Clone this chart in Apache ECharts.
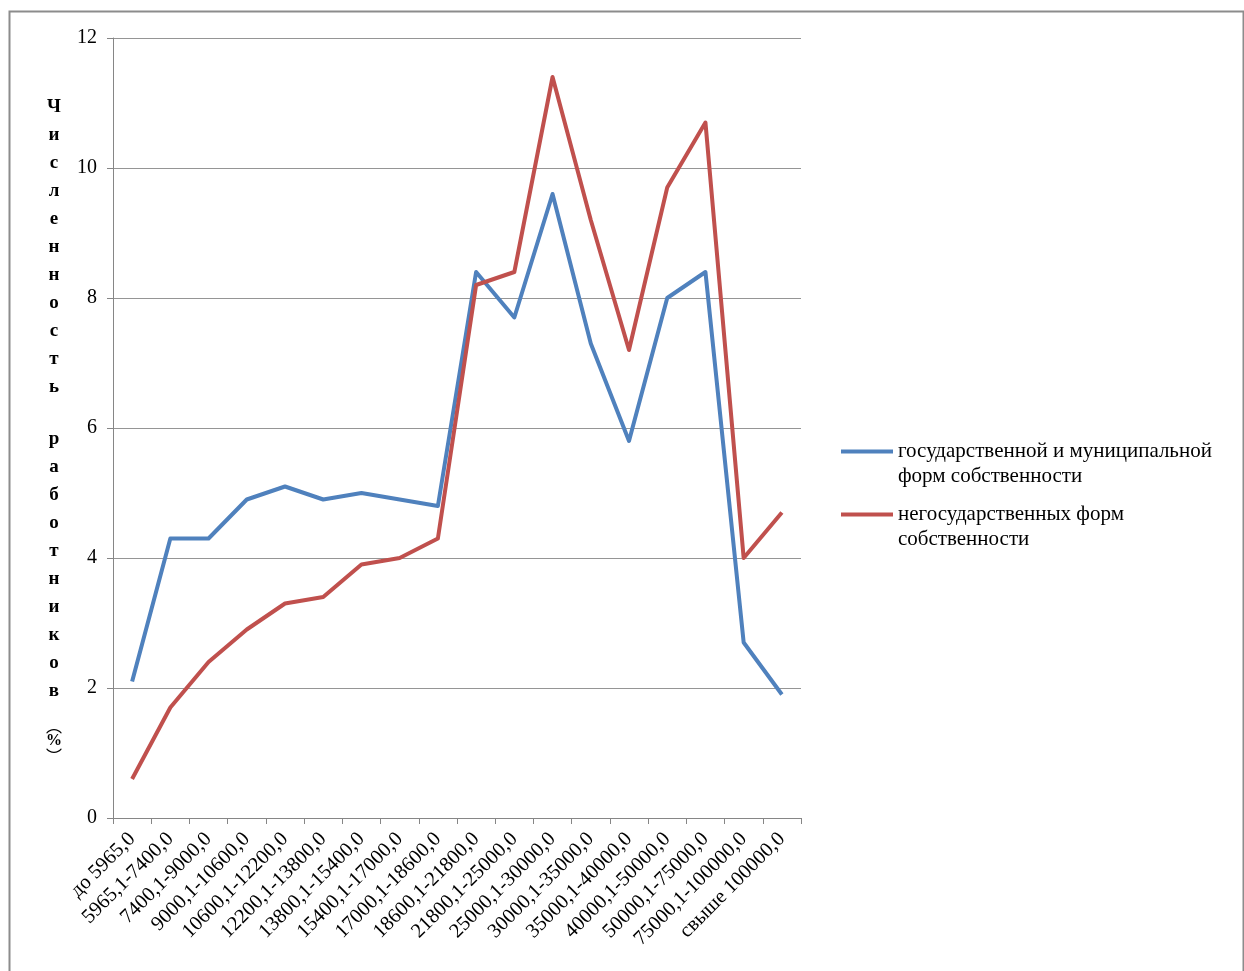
<!DOCTYPE html>
<html>
<head>
<meta charset="utf-8">
<script src="https://cdn.jsdelivr.net/npm/echarts@6/dist/echarts.min.js"></script>
<style>
html,body{margin:0;padding:0;background:#fff;}
#chart{width:1244px;height:971px;}
</style>
</head>
<body>
<div id="chart"></div>
<script>
const categories = ['до 5965,0','5965,1-7400,0','7400,1-9000,0','9000,1-10600,0','10600,1-12200,0','12200,1-13800,0','13800,1-15400,0','15400,1-17000,0','17000,1-18600,0','18600,1-21800,0','21800,1-25000,0','25000,1-30000,0','30000,1-35000,0','35000,1-40000,0','40000,1-50000,0','50000,1-75000,0','75000,1-100000,0','свыше 100000,0'];
const stateValues = [2.1, 4.3, 4.3, 4.9, 5.1, 4.9, 5.0, 4.9, 4.8, 8.4, 7.7, 9.6, 7.3, 5.8, 8.0, 8.4, 2.7, 1.9];
const nonStateValues = [0.6, 1.7, 2.4, 2.9, 3.3, 3.4, 3.9, 4.0, 4.3, 8.2, 8.4, 11.4, 9.2, 7.2, 9.7, 10.7, 4.0, 4.7];
const seriesNames = ['государственной и муниципальной форм собственности', 'негосударственных форм собственности'];
const legendLabels = ['государственной и муниципальной\nформ собственности', 'негосударственных форм\nсобственности'];
const yTitleWords = ['численность', 'работников'];
const yTitleUnit = '%';

const serif = '"Liberation Serif","Times New Roman",serif';
const titleChars = Array.from(yTitleWords[0]);
titleChars[0] = titleChars[0].toUpperCase();
const titleLines = titleChars.map(c => '{c|' + c + '}')
  .concat(['{s| }'])
  .concat(Array.from(yTitleWords[1]).map(c => '{c|' + c + '}'))
  .concat(['{g| }', '{p|︵}', '{q|' + yTitleUnit + '}', '{p|︶}']);

const chart = echarts.init(document.getElementById('chart'));
chart.setOption({
  backgroundColor: '#fff',
  animation: false,
  graphic: [{
    type: 'rect', left: 7, top: 9, shape: {width: 1234, height: 1000},
    style: {fill: 'none', stroke: '#8c8c8c', lineWidth: 2}, silent: true
  }],
  grid: {left: 113, right: 443, top: 38, bottom: 153, containLabel: false},
  legend: {
    orient: 'vertical', left: 841, top: 439, padding: 0, itemGap: 13,
    itemWidth: 52, itemHeight: 29,
    icon: 'path://M0,0H52V4H0Z M0,29L0.1,29',
    itemStyle: {borderWidth: 0},
    formatter: name => legendLabels[seriesNames.indexOf(name)],
    textStyle: {fontFamily: serif, fontSize: 21, lineHeight: 25, color: '#000'}
  },
  xAxis: {
    type: 'category', data: categories, boundaryGap: true,
    axisLine: {lineStyle: {color: '#868686', width: 1}},
    axisTick: {show: true, length: 6, alignWithLabel: false, lineStyle: {color: '#868686'}},
    axisLabel: {rotate: 45, interval: 0, margin: 18, fontFamily: serif, fontSize: 20.5, color: '#000'}
  },
  yAxis: {
    type: 'value', min: 0, max: 12, interval: 2,
    name: titleLines.join('\n'),
    nameLocation: 'middle', nameRotate: 0, nameGap: 59,
    nameTextStyle: {
      align: 'center', verticalAlign: 'middle',
      rich: {
        c: {fontFamily: serif, fontWeight: 'bold', fontSize: 19, lineHeight: 28, color: '#000'},
        s: {fontSize: 10, lineHeight: 24},
        g: {fontSize: 10, lineHeight: 14},
        p: {fontFamily: '"Noto Sans CJK SC",sans-serif', fontSize: 16, lineHeight: 14, color: '#000'},
        q: {fontFamily: serif, fontWeight: 'bold', fontSize: 16, lineHeight: 16, color: '#000'}
      }
    },
    axisLine: {show: true, lineStyle: {color: '#868686', width: 1}},
    axisTick: {show: true, length: 6, lineStyle: {color: '#868686'}},
    axisLabel: {margin: 16, fontFamily: serif, fontSize: 20, color: '#000'},
    splitLine: {show: true, lineStyle: {color: '#959595', width: 1}}
  },
  series: [
    {name: seriesNames[0], type: 'line', data: stateValues, symbol: 'none',
     lineStyle: {width: 4, color: '#4F81BD', join: 'round'}, itemStyle: {color: '#4F81BD'}},
    {name: seriesNames[1], type: 'line', data: nonStateValues, symbol: 'none',
     lineStyle: {width: 4, color: '#C0504D', join: 'round'}, itemStyle: {color: '#C0504D'}}
  ]
});
</script>
</body>
</html>
